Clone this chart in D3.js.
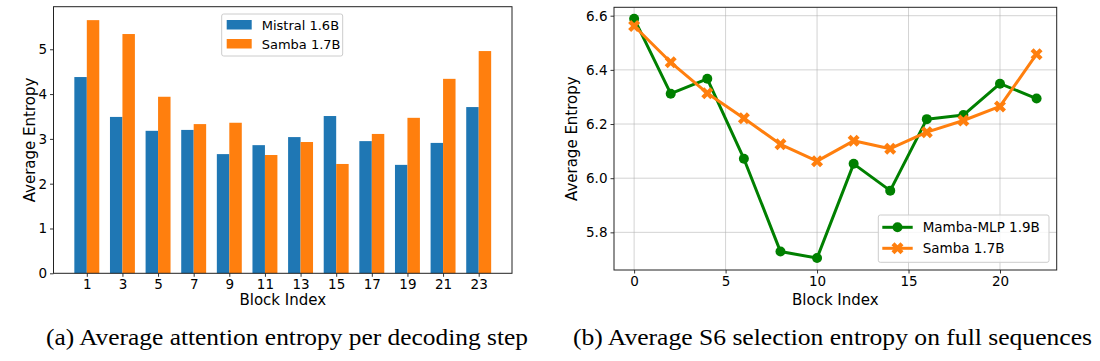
<!DOCTYPE html>
<html>
<head>
<meta charset="utf-8">
<script src="https://cdn.jsdelivr.net/npm/d3@7"></script>
<style>
  body { margin: 0; background: #fff; }
  svg text { font-family: "DejaVu Sans", sans-serif; fill: #000; }
  svg text.caption { font-family: "Liberation Serif", "Times New Roman", serif; font-size: 24px; }
</style>
</head>
<body>
<svg id="chart" width="1100" height="361"></svg>
<script>
/* left panel data */
const blocksA = [1, 3, 5, 7, 9, 11, 13, 15, 17, 19, 21, 23];
const mistral = [4.38, 3.49, 3.18, 3.20, 2.66, 2.86, 3.04, 3.51, 2.95, 2.42, 2.91, 3.71];
const sambaA = [5.65, 5.34, 3.94, 3.33, 3.36, 2.64, 2.93, 2.44, 3.11, 3.47, 4.34, 4.96];
const yTicksA = [0, 1, 2, 3, 4, 5];

/* right panel data */
const blocksB = [0, 2, 4, 6, 8, 10, 12, 14, 16, 18, 20, 22];
const mambaMlp = [6.589, 6.312, 6.367, 6.072, 5.729, 5.705, 6.053, 5.954, 6.218, 6.233, 6.349, 6.294];
const sambaB = [6.562, 6.428, 6.314, 6.221, 6.125, 6.063, 6.138, 6.109, 6.170, 6.213, 6.265, 6.458];
const xTicksB = [0, 5, 10, 15, 20];
const yTicksB = [5.8, 6.0, 6.2, 6.4, 6.6];

const BLUE = "#1f77b4", ORANGE = "#ff7f0e", GREEN = "#008000";
const svg = d3.select("#chart");

function styleAxis(sel) {
  sel.select(".domain").remove();
  sel.selectAll(".tick line").attr("stroke", "#000").attr("stroke-width", 0.8);
  sel.selectAll(".tick text").style("font-size", "13.5px").attr("fill", "#000");
}

function frame(x0, y0, x1, y1) {
  svg.append("rect").attr("x", x0).attr("y", y0).attr("width", x1 - x0).attr("height", y1 - y0)
    .attr("fill", "none").attr("stroke", "#222").attr("stroke-width", 1);
}

/* Panel (a): grouped bars */
{
  const L = 53.5, R = 512, T = 6.7, B = 273.3;
  const x = d3.scaleLinear().domain([-0.935, blocksA.length - 1 + 0.935]).range([L, R]);
  const y = d3.scaleLinear().domain([0, 5.95]).range([B, T]);
  const w = 0.35;

  blocksA.forEach((b, i) => {
    svg.append("rect").attr("x", x(i - w)).attr("width", x(w) - x(0))
      .attr("y", y(mistral[i])).attr("height", y(0) - y(mistral[i])).attr("fill", BLUE);
    svg.append("rect").attr("x", x(i)).attr("width", x(w) - x(0))
      .attr("y", y(sambaA[i])).attr("height", y(0) - y(sambaA[i])).attr("fill", ORANGE);
  });

  svg.append("g").attr("transform", `translate(0,${B})`)
    .call(d3.axisBottom(x).tickValues(d3.range(blocksA.length)).tickFormat(i => blocksA[i]).tickSize(3.5).tickPadding(3))
    .call(styleAxis);
  svg.append("g").attr("transform", `translate(${L},0)`)
    .call(d3.axisLeft(y).tickValues(yTicksA).tickFormat(d3.format("d")).tickSize(3.5).tickPadding(3))
    .call(styleAxis);
  frame(L, T, R, B);

  svg.append("text").attr("x", (L + R) / 2).attr("y", 305).attr("text-anchor", "middle")
    .style("font-size", "15px").text("Block Index");
  svg.append("text").attr("transform", `translate(35,${(T + B) / 2}) rotate(-90)`)
    .attr("text-anchor", "middle").style("font-size", "15px").text("Average Entropy");

  const lg = svg.append("g").attr("transform", "translate(221.7,14)");
  lg.append("rect").attr("width", 121).attr("height", 42).attr("rx", 2)
    .attr("fill", "#fff").attr("fill-opacity", 0.8).attr("stroke", "#ccc");
  [["Mistral 1.6B", BLUE], ["Samba 1.7B", ORANGE]].forEach(([name, c], k) => {
    lg.append("rect").attr("x", 5).attr("y", 6 + k * 19).attr("width", 25).attr("height", 9.5).attr("fill", c);
    lg.append("text").attr("x", 40).attr("y", 15.5 + k * 19).style("font-size", "13px").text(name);
  });

  svg.append("text").attr("class", "caption").attr("x", 287).attr("y", 345).attr("text-anchor", "middle")
    .attr("textLength", 482).attr("lengthAdjust", "spacingAndGlyphs")
    .text("(a) Average attention entropy per decoding step");
}

/* Panel (b): lines */
{
  const L = 614, R = 1056.7, T = 7.3, B = 270;
  const x = d3.scaleLinear().domain([-1.1, 23.1]).range([L, R]);
  const y = d3.scaleLinear().domain([5.661, 6.631]).range([B, T]);

  const grid = svg.append("g").attr("stroke", "#b0b0b0").attr("stroke-width", 0.8).attr("stroke-opacity", 0.7);
  xTicksB.forEach(t => grid.append("line").attr("x1", x(t)).attr("x2", x(t)).attr("y1", T).attr("y2", B));
  yTicksB.forEach(t => grid.append("line").attr("x1", L).attr("x2", R).attr("y1", y(t)).attr("y2", y(t)));

  const line = d3.line().x(d => x(d[0])).y(d => y(d[1]));
  const series = [
    { name: "Mamba-MLP 1.9B", vals: mambaMlp, color: GREEN, marker: "circle" },
    { name: "Samba 1.7B", vals: sambaB, color: ORANGE, marker: "x" }
  ];
  const xMark = d3.symbol().type(d3.symbolCross).size(90);

  function drawMarker(g, s, cx, cy) {
    if (s.marker === "circle") {
      g.append("circle").attr("cx", cx).attr("cy", cy).attr("r", 5).attr("fill", s.color);
    } else {
      g.append("path").attr("d", xMark()).attr("transform", `translate(${cx},${cy}) rotate(45)`).attr("fill", s.color);
    }
  }

  series.forEach(s => {
    const pts = blocksB.map((b, i) => [b, s.vals[i]]);
    svg.append("path").datum(pts).attr("d", line).attr("fill", "none")
      .attr("stroke", s.color).attr("stroke-width", 3).attr("stroke-linejoin", "round");
    const mg = svg.append("g");
    pts.forEach(p => drawMarker(mg, s, x(p[0]), y(p[1])));
  });

  svg.append("g").attr("transform", `translate(0,${B})`)
    .call(d3.axisBottom(x).tickValues(xTicksB).tickSize(3.5).tickPadding(3))
    .call(styleAxis);
  svg.append("g").attr("transform", `translate(${L},0)`)
    .call(d3.axisLeft(y).tickValues(yTicksB).tickFormat(d3.format(".1f")).tickSize(3.5).tickPadding(3))
    .call(styleAxis);
  frame(L, T, R, B);

  svg.append("text").attr("x", (L + R) / 2).attr("y", 305).attr("text-anchor", "middle")
    .style("font-size", "15px").text("Block Index");
  svg.append("text").attr("transform", `translate(577,${(T + B) / 2}) rotate(-90)`)
    .attr("text-anchor", "middle").style("font-size", "15px").text("Average Entropy");

  const lg = svg.append("g").attr("transform", "translate(878.3,215)");
  lg.append("rect").attr("width", 170.7).attr("height", 47.3).attr("rx", 2)
    .attr("fill", "#fff").attr("fill-opacity", 0.8).attr("stroke", "#ccc");
  series.forEach((s, k) => {
    const yy = 12.3 + k * 21;
    lg.append("line").attr("x1", 4).attr("x2", 34.4).attr("y1", yy).attr("y2", yy)
      .attr("stroke", s.color).attr("stroke-width", 3);
    drawMarker(lg, s, 19.2, yy);
    lg.append("text").attr("x", 44.4).attr("y", yy + 5).style("font-size", "13.5px").text(s.name);
  });

  svg.append("text").attr("class", "caption").attr("x", 832.5).attr("y", 345).attr("text-anchor", "middle")
    .attr("textLength", 519).attr("lengthAdjust", "spacingAndGlyphs")
    .text("(b) Average S6 selection entropy on full sequences");
}
</script>
</body>
</html>
